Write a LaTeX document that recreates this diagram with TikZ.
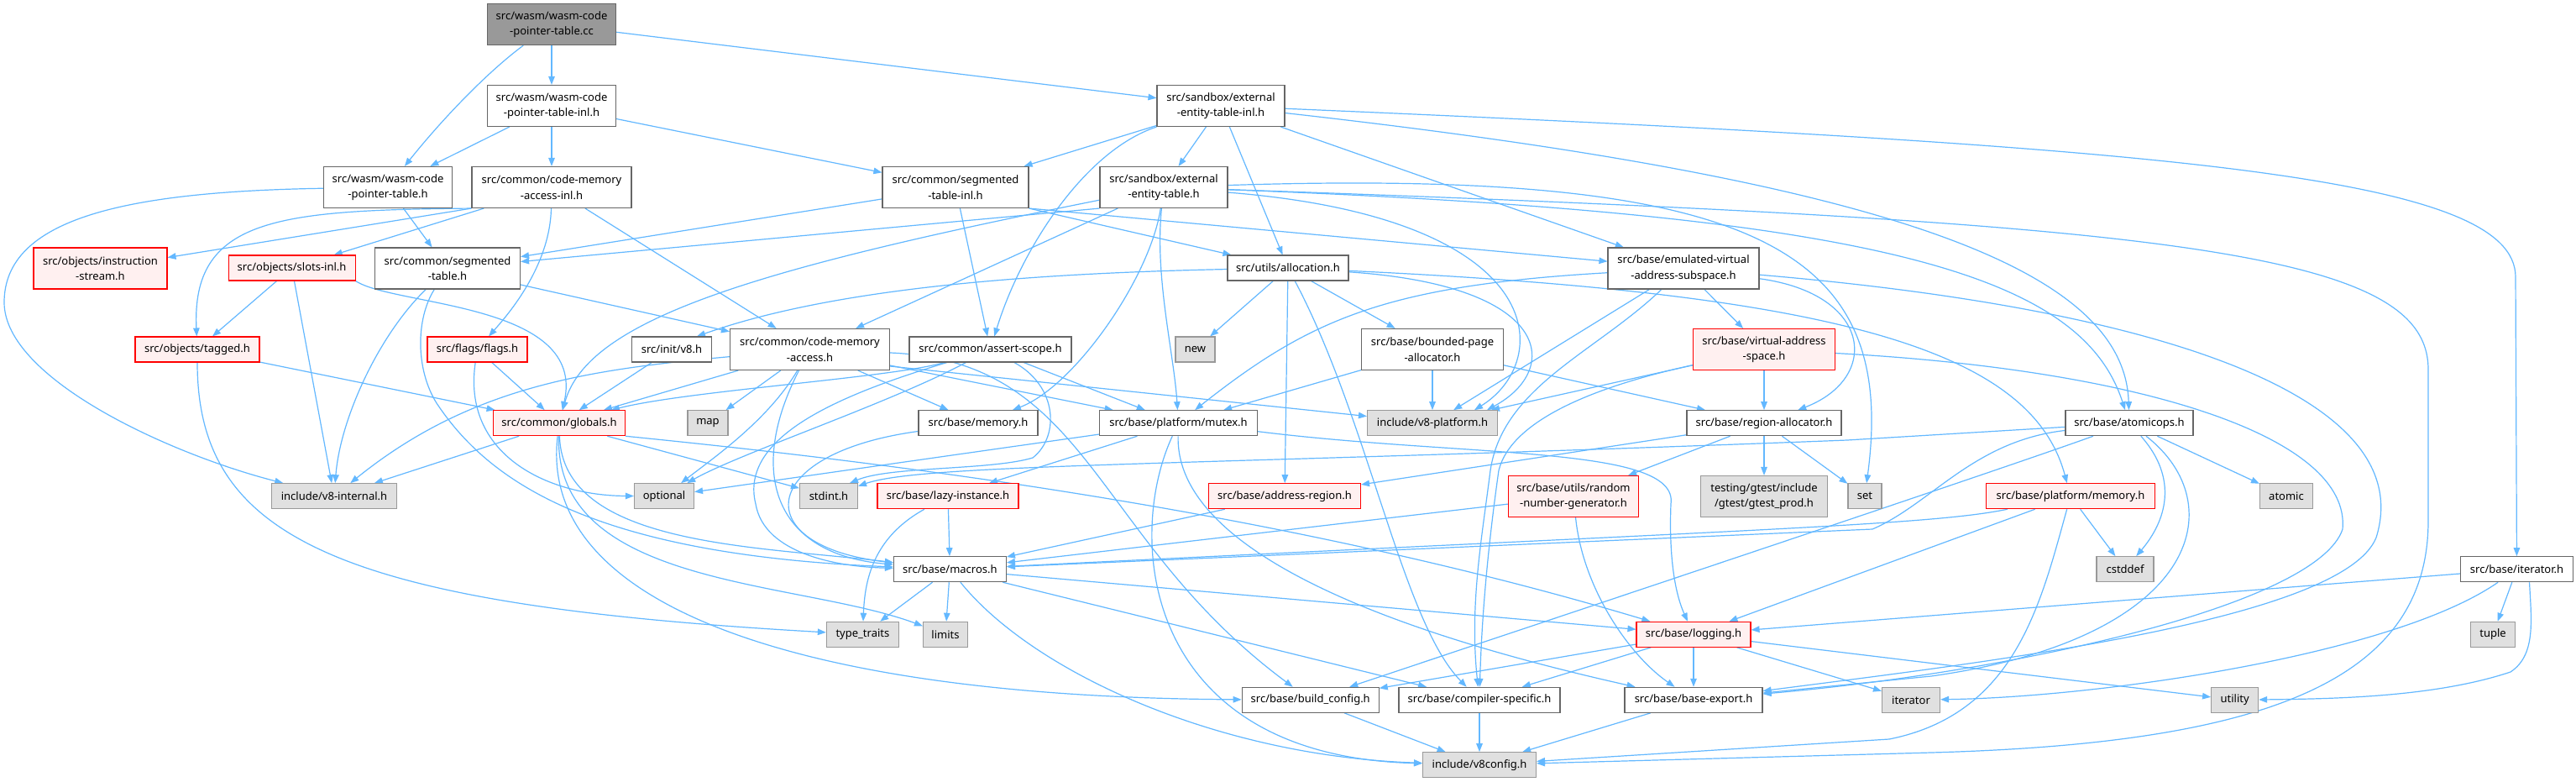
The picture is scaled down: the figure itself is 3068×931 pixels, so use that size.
\documentclass[tikz,border=0pt]{standalone}
\usepackage{fontspec}
\setmainfont{Noto Sans}
\usetikzlibrary{arrows.meta}
\pgfdeclarelayer{background}
\pgfdeclarelayer{canvas}
\pgfsetlayers{canvas,background,main}
\definecolor{ec}{HTML}{63B8FF}
\definecolor{wb}{HTML}{666666}
\definecolor{gb}{HTML}{999999}
\definecolor{gf}{HTML}{E0E0E0}
\definecolor{rb}{HTML}{FF0000}
\definecolor{rf}{HTML}{FFF0F0}
\definecolor{rootf}{HTML}{999999}
\newcommand\nf{\fontsize{13}{18.7}\selectfont}
\newcommand\nd[6]{\node[#1, minimum width=#4pt, minimum height=#5pt] (#2) at (#3) {#6};}
\begin{document}
\begin{tikzpicture}[x=1pt,y=-1pt,
  base/.style={draw, line width=1.1pt, inner sep=0pt, align=center, font=\nf, text=black},
  w/.style={base, draw=wb, fill=white},
  r/.style={base, draw=rb, fill=rf},
  g/.style={base, draw=gb, fill=gf},
  root/.style={base, draw=wb, fill=rootf},
  e/.style={draw=ec, line width=1.2pt, -{Triangle[length=10pt,width=7.5pt]}}]
\begin{pgfonlayer}{canvas}
\fill[white] (0,0) rectangle (3068,931);
\end{pgfonlayer}
\useasboundingbox (0,0) rectangle (3068,931);
% nodes
\nd{root}{cc}{657,29}{153}{49}{src/wasm/wasm-code\\-pointer-table.cc}
\nd{w}{wptinl}{657,126}{153}{49}{src/wasm/wasm-code\\-pointer-table-inl.h}
\nd{w}{eetinl}{1454,126}{152}{49}{src/sandbox/external\\-entity-table-inl.h}
\nd{w}{wpth}{462,223}{153}{49}{src/wasm/wasm-code\\-pointer-table.h}
\nd{w}{cmainl}{657,223}{190}{49}{src/common/code-memory\\-access-inl.h}
\nd{w}{stinl}{1138,223}{174}{49}{src/common/segmented\\-table-inl.h}
\nd{w}{eet}{1386,223}{152}{49}{src/sandbox/external\\-entity-table.h}
\nd{r}{instr}{119.5,319.5}{159}{49}{src/objects/instruction\\-stream.h}
\nd{r}{slots}{347.6,319}{151}{30}{src/objects/slots-inl.h}
\nd{w}{segt}{533,319.5}{173}{49}{src/common/segmented\\-table.h}
\nd{w}{alloc}{1534,319}{144}{30}{src/utils/allocation.h}
\nd{w}{evas}{2005,319.5}{180}{49}{src/base/emulated-virtual\\-address-subspace.h}
\nd{r}{tagged}{235,416}{148}{30}{src/objects/tagged.h}
\nd{r}{flags}{568.5,416}{119}{30}{src/flags/flags.h}
\nd{w}{initv8}{800,416}{95}{30}{src/init/v8.h}
\nd{w}{cma}{964.5,416}{190}{49}{src/common/code-memory\\-access.h}
\nd{w}{ascope}{1179.5,416}{193}{30}{src/common/assert-scope.h}
\nd{g}{nnew}{1423.5,416}{47}{30}{new}
\nd{w}{bpa}{1706,416}{169}{49}{src/base/bounded-page\\-allocator.h}
\nd{r}{vas}{2101,416}{169}{49}{src/base/virtual-address\\-space.h}
\nd{r}{globals}{666,503.7}{157}{30}{src/common/globals.h}
\nd{g}{nmap}{843,503.7}{48}{30}{map}
\nd{w}{memory}{1165,503.7}{142}{30}{src/base/memory.h}
\nd{w}{mutex}{1403.5,503.7}{188}{30}{src/base/platform/mutex.h}
\nd{g}{v8plat}{1706,503.7}{155}{30}{include/v8-platform.h}
\nd{w}{regalloc}{2101,503.7}{184}{30}{src/base/region-allocator.h}
\nd{w}{atomicops}{2536,503.7}{152}{30}{src/base/atomicops.h}
\nd{g}{v8int}{398,590.7}{149}{30}{include/v8-internal.h}
\nd{g}{optional}{791,590.7}{71}{30}{optional}
\nd{g}{stdint}{987,590.7}{69}{30}{stdint.h}
\nd{r}{lazy}{1129,590.7}{168}{30}{src/base/lazy-instance.h}
\nd{r}{addrreg}{1530,590.7}{181}{30}{src/base/address-region.h}
\nd{r}{rng}{1874,591}{155}{49}{src/base/utils/random\\-number-generator.h}
\nd{g}{gtest}{2101,591}{151}{49}{testing/gtest/include\\/gtest/gtest\_prod.h}
\nd{g}{nset}{2221,590.7}{40}{30}{set}
\nd{r}{pmem}{2466,590.7}{201}{30}{src/base/platform/memory.h}
\nd{g}{atomic}{2723,590.7}{63}{30}{atomic}
\nd{w}{macros}{1131.4,677.7}{134}{30}{src/base/macros.h}
\nd{g}{cstddef}{2531,677.7}{68}{30}{cstddef}
\nd{w}{iterh}{2997.5,677.7}{134}{30}{src/base/iterator.h}
\nd{g}{typetraits}{1027.4,755.3}{86}{30}{type\_traits}
\nd{g}{limits}{1126,755.3}{53}{30}{limits}
\nd{r}{logging}{2017,755.3}{136}{30}{src/base/logging.h}
\nd{g}{tuple}{2969,755.3}{53}{30}{tuple}
\nd{w}{buildcfg}{1560.7,833.3}{163}{30}{src/base/build\_config.h}
\nd{w}{compspec}{1762,833.3}{192}{30}{src/base/compiler-specific.h}
\nd{w}{baseexp}{2017,833.3}{164}{30}{src/base/base-export.h}
\nd{g}{iterator}{2276,833.3}{69}{30}{iterator}
\nd{g}{utility}{2661.6,833.3}{56}{30}{utility}
\nd{g}{v8config}{1762,910.7}{135}{30}{include/v8config.h}
% edges
\begin{pgfonlayer}{background}
\draw[e] (cc) .. controls (575,90) and (520,150) .. (wpth);
\draw[e] (cc) -- (wptinl);
\draw[e] (cc) -- (eetinl);
\draw[e] (wptinl) -- (wpth);
\draw[e] (wptinl) -- (cmainl);
\draw[e] (wptinl) -- (stinl);
\draw[e] (eetinl) -- (stinl);
\draw[e] (eetinl) -- (eet);
\draw[e] (eetinl.south west) .. controls (1290,180) and (1215,300) .. (ascope);
\draw[e] (eetinl) -- (alloc);
\draw[e] (eetinl) -- (evas);
\draw[e] (eetinl) .. controls (2250,215) and (2530,320) .. (atomicops);
\draw[e] (eetinl) .. controls (2600,175) and (2996,210) .. (2996,330) -- (iterh);
\draw[e] (wpth) .. controls (150,228) and (5,260) .. (5,360) .. controls (5,450) and (200,540) .. (v8int);
\draw[e] (wpth) -- (segt);
\draw[e] (cmainl.south west) -- (instr);
\draw[e] (cmainl.south west) .. controls (330,250) and (228,260) .. (tagged);
\draw[e] (cmainl) -- (slots);
\draw[e] (cmainl) .. controls (655,320) and (600,380) .. (flags);
\draw[e] (cmainl) -- (cma);
\draw[e] (stinl) -- (segt);
\draw[e] (stinl) -- (ascope);
\draw[e] (stinl.south east) -- (alloc);
\draw[e] (stinl.south east) -- (evas);
\draw[e] (eet.south west) -- (segt);
\draw[e] (eet) .. controls (900,320) and (700,380) .. (globals);
\draw[e] (eet) -- (cma);
\draw[e] (eet) .. controls (1370,330) and (1280,460) .. (memory);
\draw[e] (eet) .. controls (1375,330) and (1398,420) .. (mutex);
\draw[e] (eet) .. controls (1850,260) and (1850,430) .. ([xshift=50pt]v8plat.north);
\draw[e] (eet) .. controls (2100,200) and (2260,300) .. (nset);
\draw[e] (eet) .. controls (2250,255) and (2480,330) .. (atomicops);
\draw[e] (eet) .. controls (2600,265) and (2892,300) .. (2892,440) -- (2892,620) .. controls (2892,810) and (2700,885) .. (2300,896) -- (v8config);
\draw[e] (slots) -- (tagged);
\draw[e] (slots.south east) .. controls (470,365) and (700,360) .. (globals);
\draw[e] (slots) -- (v8int);
\draw[e] (segt) .. controls (450,400) and (405,500) .. (v8int);
\draw[e] (segt) .. controls (495,380) and (495,440) .. (520,480) .. controls (580,570) and (700,660) .. (macros);
\draw[e] (segt) -- (cma);
\draw[e] (tagged) -- (globals);
\draw[e] (tagged) .. controls (235,640) and (400,720) .. (typetraits);
\draw[e] (flags) -- (globals);
\draw[e] (flags) .. controls (550,540) and (650,590) .. (optional);
\draw[e] (initv8) -- (globals);
\draw[e] (cma) -- (globals);
\draw[e] (cma) .. controls (700,440) and (560,460) .. (v8int);
\draw[e] (cma) -- (nmap);
\draw[e] (cma) .. controls (915,500) and (850,545) .. (optional);
\draw[e] (cma) -- (memory);
\draw[e] (cma) -- (mutex);
\draw[e] (cma) .. controls (890,560) and (920,660) .. (macros);
\draw[e] (cma) .. controls (1300,430) and (1300,640) .. (buildcfg);
\draw[e] ([yshift=-20pt]cma.east) -- (v8plat);
\draw[e] (ascope) .. controls (1060,450) and (820,465) .. (globals);
\draw[e] (ascope) .. controls (1060,480) and (880,540) .. (optional);
\draw[e] (ascope) .. controls (1260,460) and (1262,520) .. (1230,545) .. controls (1180,560) and (1060,555) .. ([xshift=25pt]stdint.north);
\draw[e] (ascope) .. controls (1000,470) and (880,520) .. (900,600) .. controls (910,660) and (1000,675) .. (macros);
\draw[e] (ascope) -- (mutex);
\draw[e] (bpa) -- (v8plat);
\draw[e] (bpa) -- (mutex);
\draw[e] (bpa) -- (regalloc);
\draw[e] (alloc) -- (nnew);
\draw[e] (alloc) -- (bpa);
\draw[e] (alloc) .. controls (1250,325) and (1000,340) .. ([xshift=30pt]initv8.north);
\draw[e] (alloc) .. controls (1850,340) and (1860,440) .. ([xshift=65pt]v8plat.north);
\draw[e] (alloc) -- (addrreg);
\draw[e] (alloc) .. controls (1630,500) and (1670,740) .. (compspec);
\draw[e] (alloc) .. controls (2200,350) and (2420,420) .. (pmem);
\draw[e] (evas) -- (v8plat);
\draw[e] (evas) -- (vas);
\draw[e] (evas) .. controls (2230,350) and (2240,450) .. (regalloc);
\draw[e] (evas) .. controls (1650,340) and (1560,380) .. (mutex);
\draw[e] (evas) .. controls (1900,420) and (1790,460) .. (1775,560) .. controls (1765,640) and (1750,720) .. (compspec);
\draw[e] (evas) .. controls (2600,370) and (2880,480) .. (2830,640) .. controls (2790,740) and (2350,790) .. (baseexp);
\draw[e] (vas) -- (v8plat);
\draw[e] (vas) -- (regalloc);
\draw[e] (vas) .. controls (1900,460) and (1800,500) .. (1785,560) .. controls (1775,630) and (1765,720) .. (compspec);
\draw[e] (vas) .. controls (2550,440) and (2800,520) .. (2790,630) .. controls (2760,720) and (2400,800) .. (baseexp);
\draw[e] (regalloc) -- (addrreg);
\draw[e] (regalloc) -- (rng);
\draw[e] (regalloc) -- (gtest);
\draw[e] (regalloc) -- (nset);
\draw[e] (atomicops) -- (2200,524) .. controls (1400,555) and (1100,552) .. (stdint);
\draw[e] (atomicops) .. controls (2350,525) and (2300,600) .. (2230,630) -- (macros);
\draw[e] (atomicops) .. controls (2380,560) and (1900,720) .. (buildcfg);
\draw[e] (atomicops) .. controls (2595,570) and (2580,620) .. (cstddef);
\draw[e] (atomicops) -- (atomic);
\draw[e] (atomicops) .. controls (2660,600) and (2620,760) .. (2300,805) -- (baseexp);
\draw[e] (pmem) -- (cstddef);
\draw[e] (pmem) -- (logging);
\draw[e] (pmem) .. controls (2300,625) and (2100,630) .. (macros);
\draw[e] (pmem) .. controls (2430,720) and (2400,850) .. (2250,880) -- (v8config);
\draw[e] (rng) -- (macros);
\draw[e] (rng) .. controls (1885,700) and (1940,780) .. (baseexp);
\draw[e] (addrreg) -- (macros);
\draw[e] (lazy) -- (macros);
\draw[e] (lazy) .. controls (1040,640) and (1030,690) .. (typetraits);
\draw[e] (memory) .. controls (900,540) and (890,650) .. (macros);
\draw[e] (mutex) -- (optional);
\draw[e] (mutex) -- (lazy);
\draw[e] ([yshift=-10pt]mutex.east) .. controls (1750,545) and (2000,530) .. (1990,600) .. controls (1988,650) and (1992,700) .. (logging);
\draw[e] (mutex) .. controls (1400,640) and (1600,740) .. (baseexp);
\draw[e] (mutex) .. controls (1340,640) and (1360,900) .. (v8config);
\draw[e] (logging) -- (buildcfg);
\draw[e] (logging) -- (compspec);
\draw[e] (logging) -- (baseexp);
\draw[e] (logging) -- (iterator);
\draw[e] (logging) -- (utility);
\draw[e] (buildcfg) -- (v8config);
\draw[e] (compspec) -- (v8config);
\draw[e] (baseexp) -- (v8config);
\draw[e] (macros) -- (typetraits);
\draw[e] (macros) -- (limits);
\draw[e] (macros) -- (logging);
\draw[e] (macros) -- (compspec);
\draw[e] (macros) .. controls (1230,800) and (1450,900) .. (v8config);
\draw[e] (iterh) -- (logging);
\draw[e] (iterh) .. controls (2850,780) and (2500,830) .. (iterator);
\draw[e] (iterh) -- (tuple);
\draw[e] ([xshift=15pt]iterh.south) .. controls (3015,740) and (3020,780) .. (2990,800) .. controls (2900,830) and (2780,832) .. (utility);
\draw[e] (globals) -- (v8int);
\draw[e] (globals) -- (stdint);
\draw[e] (globals) .. controls (670,650) and (900,650) .. (macros);
\draw[e] (globals) .. controls (660,700) and (950,690) .. (limits);
\draw[e] (globals) .. controls (640,720) and (950,830) .. (buildcfg);
\draw[e] (globals.south east) .. controls (1000,545) and (1500,600) .. (logging);
\end{pgfonlayer}
\end{tikzpicture}
\end{document}
